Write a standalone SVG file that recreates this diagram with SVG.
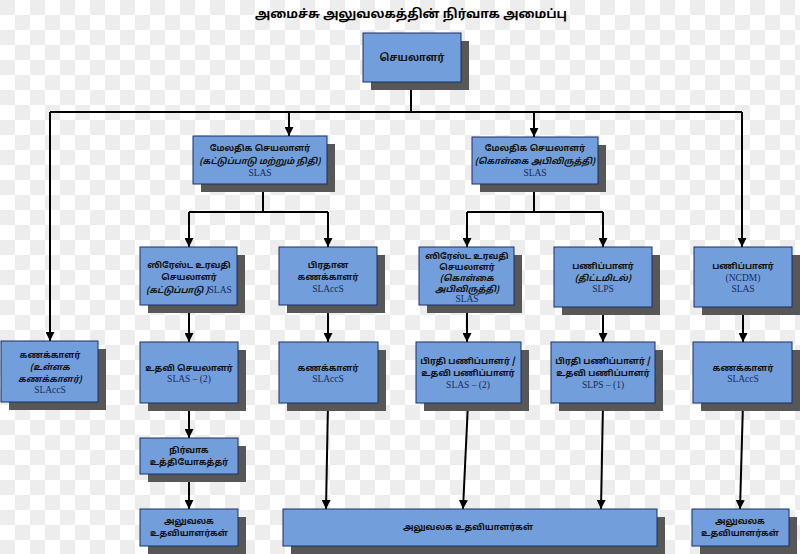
<svg xmlns="http://www.w3.org/2000/svg" width="800" height="554" viewBox="0 0 800 554">
<defs>
<marker id="arr" markerUnits="userSpaceOnUse" markerWidth="10" markerHeight="9" refX="9" refY="4.5" orient="auto">
<path d="M0,0 L9,4.5 L0,9 Z" fill="#000"/>
</marker>
<pattern id="chk" width="30" height="30" patternUnits="userSpaceOnUse">
<rect width="30" height="30" fill="#ffffff"/>
<rect width="15" height="15" fill="#ededed"/>
<rect x="15" y="15" width="15" height="15" fill="#ededed"/>
</pattern>
</defs>
<style>
.box{fill:#729fdb;stroke:#1a2f66;stroke-width:1}
.sh{fill:#575757}
.ta{font-family:"Noto Sans Tamil","Liberation Sans","Noto Sans",sans-serif;font-size:8.6px;font-weight:bold;fill:#111;text-anchor:middle}
.it{font-style:italic;font-weight:bold}
.en{font-family:"Liberation Serif",serif;font-size:9.5px;fill:#1a2a5a;text-anchor:middle;font-weight:normal;font-style:normal}
.ln{fill:none;stroke:#000;stroke-width:2}
.title{font-family:"Noto Sans Tamil","Liberation Sans","Noto Sans",sans-serif;font-size:12.5px;font-weight:bold;fill:#000;text-anchor:middle}
</style>
<rect width="800" height="554" fill="url(#chk)"/>
<text class="title" x="411" y="18">அமைச்சு அலுவலகத்தின் நிர்வாக அமைப்பு</text>

<g id="connectors">
<path class="ln" d="M411,82 V112 M50,112 H742"/>
<path class="ln" d="M50,112 V341" marker-end="url(#arr)"/>
<path class="ln" d="M289,112 V136" marker-end="url(#arr)"/>
<path class="ln" d="M534,112 V137" marker-end="url(#arr)"/>
<path class="ln" d="M742,112 V247" marker-end="url(#arr)"/>
<path class="ln" d="M263,184 V212 M189,212 H328"/>
<path class="ln" d="M189,212 V247" marker-end="url(#arr)"/>
<path class="ln" d="M328,212 V247" marker-end="url(#arr)"/>
<path class="ln" d="M534,184 V212 M467,212 H603"/>
<path class="ln" d="M467,212 V247" marker-end="url(#arr)"/>
<path class="ln" d="M603,212 V247" marker-end="url(#arr)"/>
<path class="ln" d="M189,305 V342" marker-end="url(#arr)"/>
<path class="ln" d="M328,305 V342" marker-end="url(#arr)"/>
<path class="ln" d="M467,305 V342" marker-end="url(#arr)"/>
<path class="ln" d="M603,307 V342" marker-end="url(#arr)"/>
<path class="ln" d="M743,307 V342" marker-end="url(#arr)"/>
<path class="ln" d="M189,403 V438" marker-end="url(#arr)"/>
<path class="ln" d="M189,474 V509" marker-end="url(#arr)"/>
<path class="ln" d="M328,403 L326,509" marker-end="url(#arr)"/>
<path class="ln" d="M468,403 L463,509" marker-end="url(#arr)"/>
<path class="ln" d="M603,403 L601,509" marker-end="url(#arr)"/>
<path class="ln" d="M743,403 L740,509" marker-end="url(#arr)"/>
</g>

<g id="n-root">
<rect class="sh" x="371" y="41" width="98" height="49"/>
<rect class="box" x="363" y="33" width="98" height="49"/>
<text class="ta" x="412" y="61" style="font-size:10px">செயலாளர்</text>
</g>

<g id="n-addl-finance">
<rect class="sh" x="201" y="144" width="134" height="48"/>
<rect class="box" x="193" y="136" width="134" height="48"/>
<text class="ta" x="260" y="151">மேலதிக செயலாளர்</text>
<text class="ta it" x="260" y="164">(கட்டுப்பாடு மற்றும் நிதி)</text>
<text class="en" x="260" y="176">SLAS</text>
</g>

<g id="n-addl-policy">
<rect class="sh" x="480" y="145" width="126" height="47"/>
<rect class="box" x="472" y="137" width="126" height="47"/>
<text class="ta" x="535" y="151">மேலதிக செயலாளர்</text>
<text class="ta it" x="535" y="164">(கொள்கை அபிவிருத்தி)</text>
<text class="en" x="535" y="176">SLAS</text>
</g>

<g id="n-senior-control">
<rect class="sh" x="148" y="255" width="97" height="58"/>
<rect class="box" x="140" y="247" width="97" height="58"/>
<text class="ta" x="189" y="268">ஸிரேஸ்ட உரவதி</text>
<text class="ta" x="189" y="280">செயலாளர்</text>
<text class="ta it" x="189" y="293">(கட்டுப்பாடு )<tspan class="en">SLAS</tspan></text>
</g>

<g id="n-chief-accountant">
<rect class="sh" x="287" y="255" width="98" height="58"/>
<rect class="box" x="279" y="247" width="98" height="58"/>
<text class="ta" x="328" y="268">பிரதான</text>
<text class="ta" x="328" y="280">கணக்காளர்</text>
<text class="en" x="328" y="292">SLAccS</text>
</g>

<g id="n-senior-policy">
<rect class="sh" x="427" y="255" width="95" height="58"/>
<rect class="box" x="419" y="247" width="95" height="58"/>
<text class="ta" x="467" y="259">ஸிரேஸ்ட உரவதி</text>
<text class="ta" x="467" y="270">செயலாளர்</text>
<text class="ta it" x="467" y="281">(கொள்கை</text>
<text class="ta it" x="467" y="292">அபிவிருத்தி)</text>
<text class="en" x="467" y="302">SLAS</text>
</g>

<g id="n-director-planning">
<rect class="sh" x="562" y="255" width="98" height="60"/>
<rect class="box" x="554" y="247" width="98" height="60"/>
<text class="ta" x="603" y="269">பணிப்பாளர்</text>
<text class="ta it" x="603" y="281">(திட்டமிடல்)</text>
<text class="en" x="603" y="292">SLPS</text>
</g>

<g id="n-director-ncdm">
<rect class="sh" x="702" y="255" width="98" height="60"/>
<rect class="box" x="694" y="247" width="98" height="60"/>
<text class="ta" x="743" y="269">பணிப்பாளர்</text>
<text class="en" x="743" y="281">(NCDM)</text>
<text class="en" x="743" y="292">SLAS</text>
</g>

<g id="n-internal-accountant">
<rect class="sh" x="9" y="349" width="97" height="61"/>
<rect class="box" x="1" y="341" width="97" height="61"/>
<text class="ta" x="50" y="358">கணக்காளர்</text>
<text class="ta it" x="50" y="370">(உள்ளக</text>
<text class="ta it" x="50" y="382">கணக்காளர்)</text>
<text class="en" x="50" y="393">SLAccS</text>
</g>

<g id="n-asst-secretary">
<rect class="sh" x="148" y="350" width="98" height="61"/>
<rect class="box" x="140" y="342" width="98" height="61"/>
<text class="ta" x="189" y="371">உதவி செயலாளர்</text>
<text class="en" x="189" y="382">SLAS – (2)</text>
</g>

<g id="n-accountant-mid">
<rect class="sh" x="287" y="350" width="99" height="61"/>
<rect class="box" x="279" y="342" width="99" height="61"/>
<text class="ta" x="328" y="371">கணக்காளர்</text>
<text class="en" x="328" y="382">SLAccS</text>
</g>

<g id="n-deputy-slas">
<rect class="sh" x="424" y="350" width="105" height="61"/>
<rect class="box" x="416" y="342" width="105" height="61"/>
<text class="ta" x="468" y="364">பிரதி பணிப்பாளர் /</text>
<text class="ta" x="468" y="376">உதவி பணிப்பாளர்</text>
<text class="en" x="468" y="388">SLAS – (2)</text>
</g>

<g id="n-deputy-slps">
<rect class="sh" x="559" y="350" width="104" height="61"/>
<rect class="box" x="551" y="342" width="104" height="61"/>
<text class="ta" x="603" y="364">பிரதி பணிப்பாளர் /</text>
<text class="ta" x="603" y="376">உதவி பணிப்பாளர்</text>
<text class="en" x="603" y="388">SLPS – (1)</text>
</g>

<g id="n-accountant-right">
<rect class="sh" x="701" y="350" width="99" height="61"/>
<rect class="box" x="693" y="342" width="99" height="61"/>
<text class="ta" x="743" y="371">கணக்காளர்</text>
<text class="en" x="743" y="382">SLAccS</text>
</g>

<g id="n-admin-officer">
<rect class="sh" x="148" y="446" width="98" height="36"/>
<rect class="box" x="140" y="438" width="98" height="36"/>
<text class="ta" x="189" y="453">நிர்வாக</text>
<text class="ta" x="189" y="465">உத்தியோகத்தர்</text>
</g>

<g id="n-office-asst-left">
<rect class="sh" x="148" y="517" width="98" height="37"/>
<rect class="box" x="140" y="509" width="98" height="37"/>
<text class="ta" x="189" y="524">அலுவலக</text>
<text class="ta" x="189" y="536">உதவியாளர்கள்</text>
</g>

<g id="n-office-asst-main">
<rect class="sh" x="291" y="517" width="374" height="37"/>
<rect class="box" x="283" y="509" width="374" height="37"/>
<text class="ta" x="468" y="530">அலுவலக உதவியாளர்கள்</text>
</g>

<g id="n-office-asst-right">
<rect class="sh" x="700" y="517" width="97" height="37"/>
<rect class="box" x="692" y="509" width="97" height="37"/>
<text class="ta" x="740" y="524">அலுவலக</text>
<text class="ta" x="740" y="536">உதவியாளர்கள்</text>
</g>
</svg>
